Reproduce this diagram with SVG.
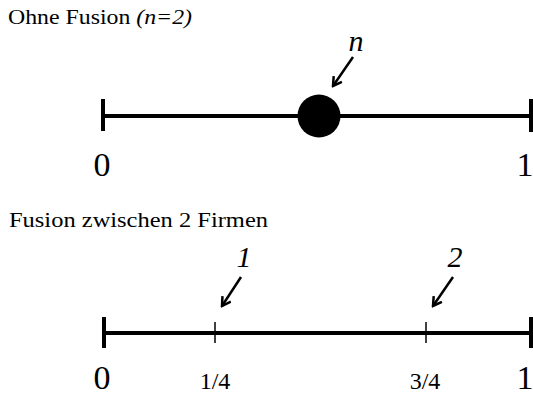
<svg xmlns="http://www.w3.org/2000/svg" width="533" height="397" viewBox="0 0 533 397">
  <style>
    .hdr { font-family: "Liberation Serif", serif; font-size: 20px; fill: #000; }
    .big { font-family: "Liberation Serif", serif; font-size: 34px; fill: #000; text-anchor: middle; }
    .frac { font-family: "Liberation Serif", serif; font-size: 24px; fill: #000; text-anchor: middle; }
    .lab { font-family: "Liberation Serif", serif; font-style: italic; font-size: 30px; fill: #000; text-anchor: middle; }
    .axis { stroke: #000; stroke-width: 4; fill: none; }
    .tick { stroke: #000; stroke-width: 1.5; fill: none; }
    .arrow { stroke: #000; stroke-width: 2.5; fill: none; marker-end: url(#head); }
  </style>
  <defs>
    <marker id="head" viewBox="0 0 12 12" refX="10" refY="6" markerWidth="12" markerHeight="12" markerUnits="userSpaceOnUse" orient="auto">
      <path d="M1.5,1 L10,6 L1.5,11" stroke="#000" stroke-width="2.5" fill="none"/>
    </marker>
  </defs>

  <g id="top-panel">
    <text class="hdr" x="8" y="24" textLength="184" lengthAdjust="spacingAndGlyphs">Ohne Fusion <tspan font-style="italic">(n=2)</tspan></text>
    <g id="top-axis">
      <line class="axis" x1="103" y1="116" x2="531" y2="116"/>
      <line class="axis" x1="103" y1="99" x2="103" y2="131"/>
      <line class="axis" x1="531" y1="99" x2="531" y2="132"/>
    </g>
    <g id="node-n">
      <circle cx="319" cy="116" r="21.5" fill="#000"/>
      <text class="lab" x="356" y="51">n</text>
    </g>
    <text class="big" x="102" y="176">0</text>
    <text class="big" x="525" y="176">1</text>
  </g>

  <g id="bottom-panel">
    <text class="hdr" x="9" y="227" textLength="259" lengthAdjust="spacingAndGlyphs">Fusion zwischen 2 Firmen</text>
    <g id="bottom-axis">
      <line class="axis" x1="104" y1="333" x2="531" y2="333"/>
      <line class="axis" x1="104" y1="317" x2="104" y2="348"/>
      <line class="axis" x1="531" y1="317" x2="531" y2="348"/>
    </g>
    <g id="node-1">
      <line class="tick" x1="215" y1="322" x2="215" y2="343"/>
      <text class="lab" x="244" y="267">1</text>
      <text class="frac" x="215" y="389">1/4</text>
    </g>
    <g id="node-2">
      <line class="tick" x1="426" y1="322" x2="426" y2="343"/>
      <text class="lab" x="455" y="267">2</text>
      <text class="frac" x="425" y="389">3/4</text>
    </g>
    <text class="big" x="102" y="389">0</text>
    <text class="big" x="525" y="389">1</text>
  </g>

  <g id="connectors">
    <line class="arrow" x1="353" y1="57" x2="333" y2="86"/>
    <line class="arrow" x1="241" y1="277" x2="222" y2="306"/>
    <line class="arrow" x1="453" y1="277" x2="433" y2="306"/>
  </g>
</svg>
